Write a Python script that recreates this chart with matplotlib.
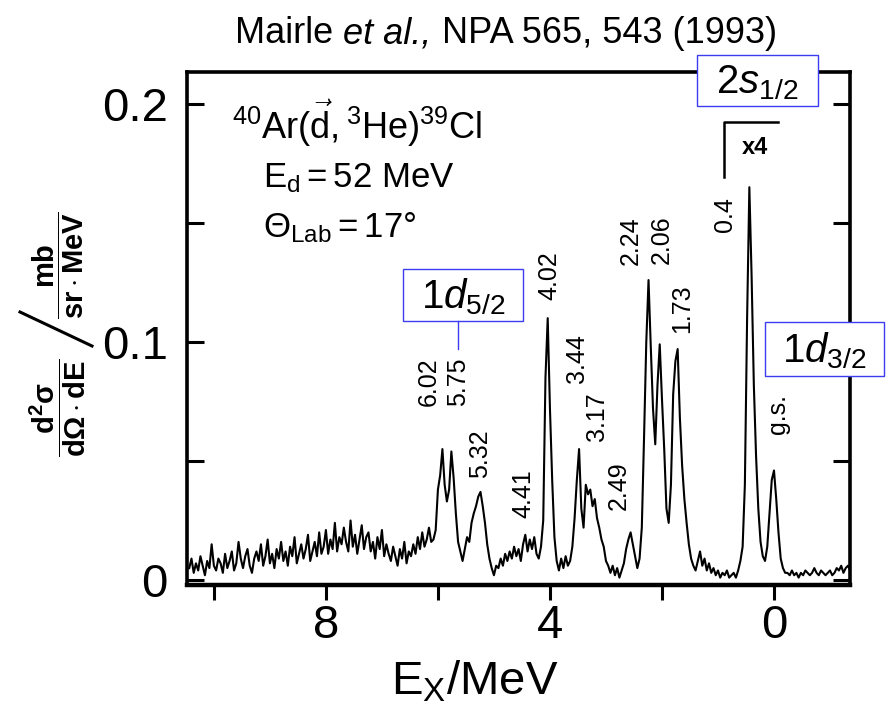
import numpy as np
import matplotlib
matplotlib.use("Agg")
import matplotlib.pyplot as plt
from matplotlib import font_manager as fm
from matplotlib.lines import Line2D
from matplotlib.patches import Rectangle


def font_ok(name):
    try:
        fm.findfont(fm.FontProperties(family=name), fallback_to_default=False)
        return True
    except Exception:
        return False


SANS = "Liberation Sans" if font_ok("Liberation Sans") else "DejaVu Sans"
NARROW = "Liberation Sans Narrow" if font_ok("Liberation Sans Narrow") else SANS
TICK_SIZE = 37 if NARROW != SANS else 34

plt.rcParams["font.family"] = [SANS, "DejaVu Sans"]
plt.rcParams["mathtext.fontset"] = "custom"
plt.rcParams["mathtext.rm"] = SANS
plt.rcParams["mathtext.sf"] = SANS
plt.rcParams["mathtext.it"] = SANS + ":italic"
plt.rcParams["mathtext.bf"] = SANS + ":bold"

# ---------------- data ----------------
# channel calibration of the spectrum (MeV)
E_START = 10.44
E_STEP = 0.04
# d2sigma/dOmega dE in units of 1e-3 mb/(sr MeV), channel by channel
seg_background_high = [5, 9, 3, 7, 4, 10, 6, 2, 8, 5,
                       15, 6, 4, 9, 7, 3, 11, 5, 8, 12,
                       4, 7, 16, 9, 5, 10, 13, 6, 3, 9,
                       12, 8, 15, 6, 10, 17, 7, 11, 5, 13,
                       9, 16, 8, 12, 6, 14, 10, 18, 7, 11,
                       15, 9, 13, 19, 8, 12, 16, 10, 20, 11]
seg_background_mid = [14, 21, 11, 17, 13, 24, 12, 18, 15, 22,
                      16, 12, 25, 14, 19, 11, 17, 23, 13, 18,
                      20, 12, 16, 9, 18, 13, 21, 10, 15, 11,
                      8, 14, 10, 6, 13, 9, 16, 7, 12, 10,
                      15, 11, 18, 13, 20, 14, 17, 22, 16]
seg_6_to_5 = [17, 21, 38, 44, 55, 40, 33, 38, 54, 43, 28, 16, 12, 8, 13,
              18, 16, 24, 28, 31, 35, 37, 31, 24, 15, 9, 5, 2, 6]
seg_4p41 = [5, 9, 6, 11, 8, 12, 9, 14, 10, 13, 8, 15, 19, 12, 17, 13, 18,
            11, 9, 14]
seg_4p02 = [25, 85, 110, 72, 42, 18, 8, 4, 9, 5, 10, 6]
seg_3p44 = [8, 14, 26, 42, 55, 30, 22, 40, 36, 38, 31, 34, 26, 22, 17, 14,
            8, 6]
seg_2p5_to_1p5 = [3, 6, 2, 5, 1, 4, 7, 13, 17, 20, 15, 10, 5, 9, 22, 60, 100,
                  126, 98, 72, 57, 82, 99, 76, 55, 30, 24, 40, 78, 92, 97, 68,
                  48, 34, 24, 15, 9, 6]
seg_1p4_to_0p6 = [4, 8, 12, 6, 9, 4, 7, 3, 5, 2, 4, 1, 3, 2, 4, 1, 2, 3, 1, 4]
seg_0p4_gs = [8, 14, 40, 110, 165, 128, 82, 52, 30, 16, 10, 8, 14, 28, 42,
              46, 34, 20, 9, 5, 3]
seg_negative = [3, 2, 4, 2, 3, 1, 3, 2, 4, 3, 2, 3, 5, 3, 2, 4, 3, 2, 3, 4,
                2, 3, 5, 4, 6, 3, 5, 6, 4]

yield_milli = np.array(seg_background_high + seg_background_mid + seg_6_to_5
                       + seg_4p41 + seg_4p02 + seg_3p44 + seg_2p5_to_1p5
                       + seg_1p4_to_0p6 + seg_0p4_gs + seg_negative, float)
energies = E_START - E_STEP * np.arange(len(yield_milli))
cross_section = yield_milli / 1000.0

x_ticks = [10, 8, 6, 4, 2, 0]
x_tick_labels = ["", "8", "", "4", "", "0"]
y_ticks = [0, 0.05, 0.1, 0.15, 0.2]
y_tick_labels = ["0", "", "0.1", "", "0.2"]

peak_labels = ["6.02", "5.75", "5.32", "4.41", "4.02", "3.44", "3.17",
               "2.49", "2.24", "2.06", "1.73", "0.4", "g.s."]
title_parts = [("Mairle ", "normal"), ("et al.,", "italic"),
               (" NPA 565, 543 (1993)", "normal")]
reaction = r"$\mathrm{{}^{40}Ar(\vec{d},{}^{3}He)^{39}Cl}$"
beam = r"$\mathrm{E_d = 52\ MeV}$"
angle = r"$\mathrm{\Theta_{Lab} = 17°}$"
orbitals = [r"$\mathrm{2}\mathit{s}_{\mathrm{1/2}}$",
            r"$\mathrm{1}\mathit{d}_{\mathrm{5/2}}$",
            r"$\mathrm{1}\mathit{d}_{\mathrm{3/2}}$"]

# ---------------- layout ----------------
W, H = 887, 713


def fx(x):
    return x / W


def fy(y):
    return 1 - y / H


fig = plt.figure(figsize=(W / 100, H / 100), dpi=100)
ax = fig.add_axes([fx(187), fy(585), (850 - 187) / W, (585 - 72) / H])

ax.plot(energies, cross_section, color="black", lw=1.5)
ax.set_xlim(10.48, -1.357)
ax.set_ylim(-0.0021, 0.2134)

for s in ax.spines.values():
    s.set_linewidth(2.6)
ax.spines["bottom"].set_linewidth(3.2)

ax.set_xticks(x_ticks)
ax.set_xticklabels(x_tick_labels, family=NARROW, fontsize=TICK_SIZE)
ax.set_yticks(y_ticks)
ax.set_yticklabels(y_tick_labels, family=NARROW, fontsize=TICK_SIZE)
ax.tick_params(axis="x", direction="out", length=11, width=2.2, pad=3)
ax.tick_params(axis="y", direction="in", length=12, width=2.2, pad=14,
               right=True)

# axis labels
fig.text(fx(475), fy(695), r"$\mathrm{E_X/MeV}$", ha="center",
         va="baseline", fontsize=34)
fig.text(fx(58), fy(408), r"$\mathbf{\dfrac{d^2\sigma}{d\Omega\cdot dE}}$",
         rotation=90, ha="center", va="center", fontsize=21)
fig.text(fx(58), fy(265), r"$\mathbf{\dfrac{mb}{sr\cdot MeV}}$",
         rotation=90, ha="center", va="center", fontsize=21)
fig.add_artist(Line2D([fx(20), fx(92)], [fy(312), fy(346)], color="black",
                      lw=2.2, transform=fig.transFigure))

# title, assembled from upright and italic pieces
renderer = fig.canvas.get_renderer()
pieces = [fig.text(0, fy(43), t, style=st, fontsize=26, va="baseline",
                   ha="left") for t, st in title_parts]


def text_width(t):
    return t.get_window_extent(renderer).width


def advance(s, st):
    # width of string including spaces, via bracket trick
    a = fig.text(0, 0, "|" + s + "|", style=st, fontsize=26)
    b = fig.text(0, 0, "||", style=st, fontsize=26)
    w = text_width(a) - text_width(b)
    a.remove()
    b.remove()
    return w


widths = [advance(t, st) for t, st in title_parts]
x_cursor = 506 - sum(widths) / 2
for p, w in zip(pieces, widths):
    p.set_x(fx(x_cursor))
    x_cursor += w

# reaction info
fig.text(fx(232), fy(139), reaction, ha="left", va="baseline", fontsize=26)
fig.text(fx(263), fy(187), beam, ha="left", va="baseline", fontsize=25)
fig.text(fx(263), fy(237), angle, ha="left", va="baseline", fontsize=25)

# peak labels (rotated)
label_pos = [(429, 382), (458, 382), (480, 454), (523, 494), (549, 276),
             (577, 359), (597, 417), (619, 486), (631, 241), (662, 240),
             (682, 309), (725, 215), (778, 414)]
for txt, (px, py) in zip(peak_labels, label_pos):
    fig.text(fx(px), fy(py), txt, rotation=90, ha="center", va="center",
             fontsize=18)

# x4 marker
fig.add_artist(Line2D([fx(724), fx(724), fx(778)],
                      [fy(177), fy(122), fy(122)], color="black", lw=1.8,
                      transform=fig.transFigure))
fig.text(fx(755), fy(148), "x4", ha="center", va="center", fontsize=17,
         fontweight="bold")

# orbital boxes
BLUE = "#3c3cf0"
boxes = [(697, 55, 818, 106), (403, 269, 523, 321), (765, 322, 884, 376)]
for txt, (x0, y0, x1, y1) in zip(orbitals, boxes):
    fig.add_artist(Rectangle((fx(x0), fy(y1)), (x1 - x0) / W, (y1 - y0) / H,
                             facecolor="white", edgecolor=BLUE, lw=1.0,
                             transform=fig.transFigure, zorder=10))
    fig.text(fx((x0 + x1) / 2), fy((y0 + y1) / 2 + 2), txt, ha="center",
             va="center", fontsize=29, zorder=11)
fig.add_artist(Line2D([fx(458), fx(458)], [fy(321), fy(349)], color=BLUE,
                      lw=1.0, transform=fig.transFigure, zorder=10))

fig.savefig("out.png", dpi=100)
